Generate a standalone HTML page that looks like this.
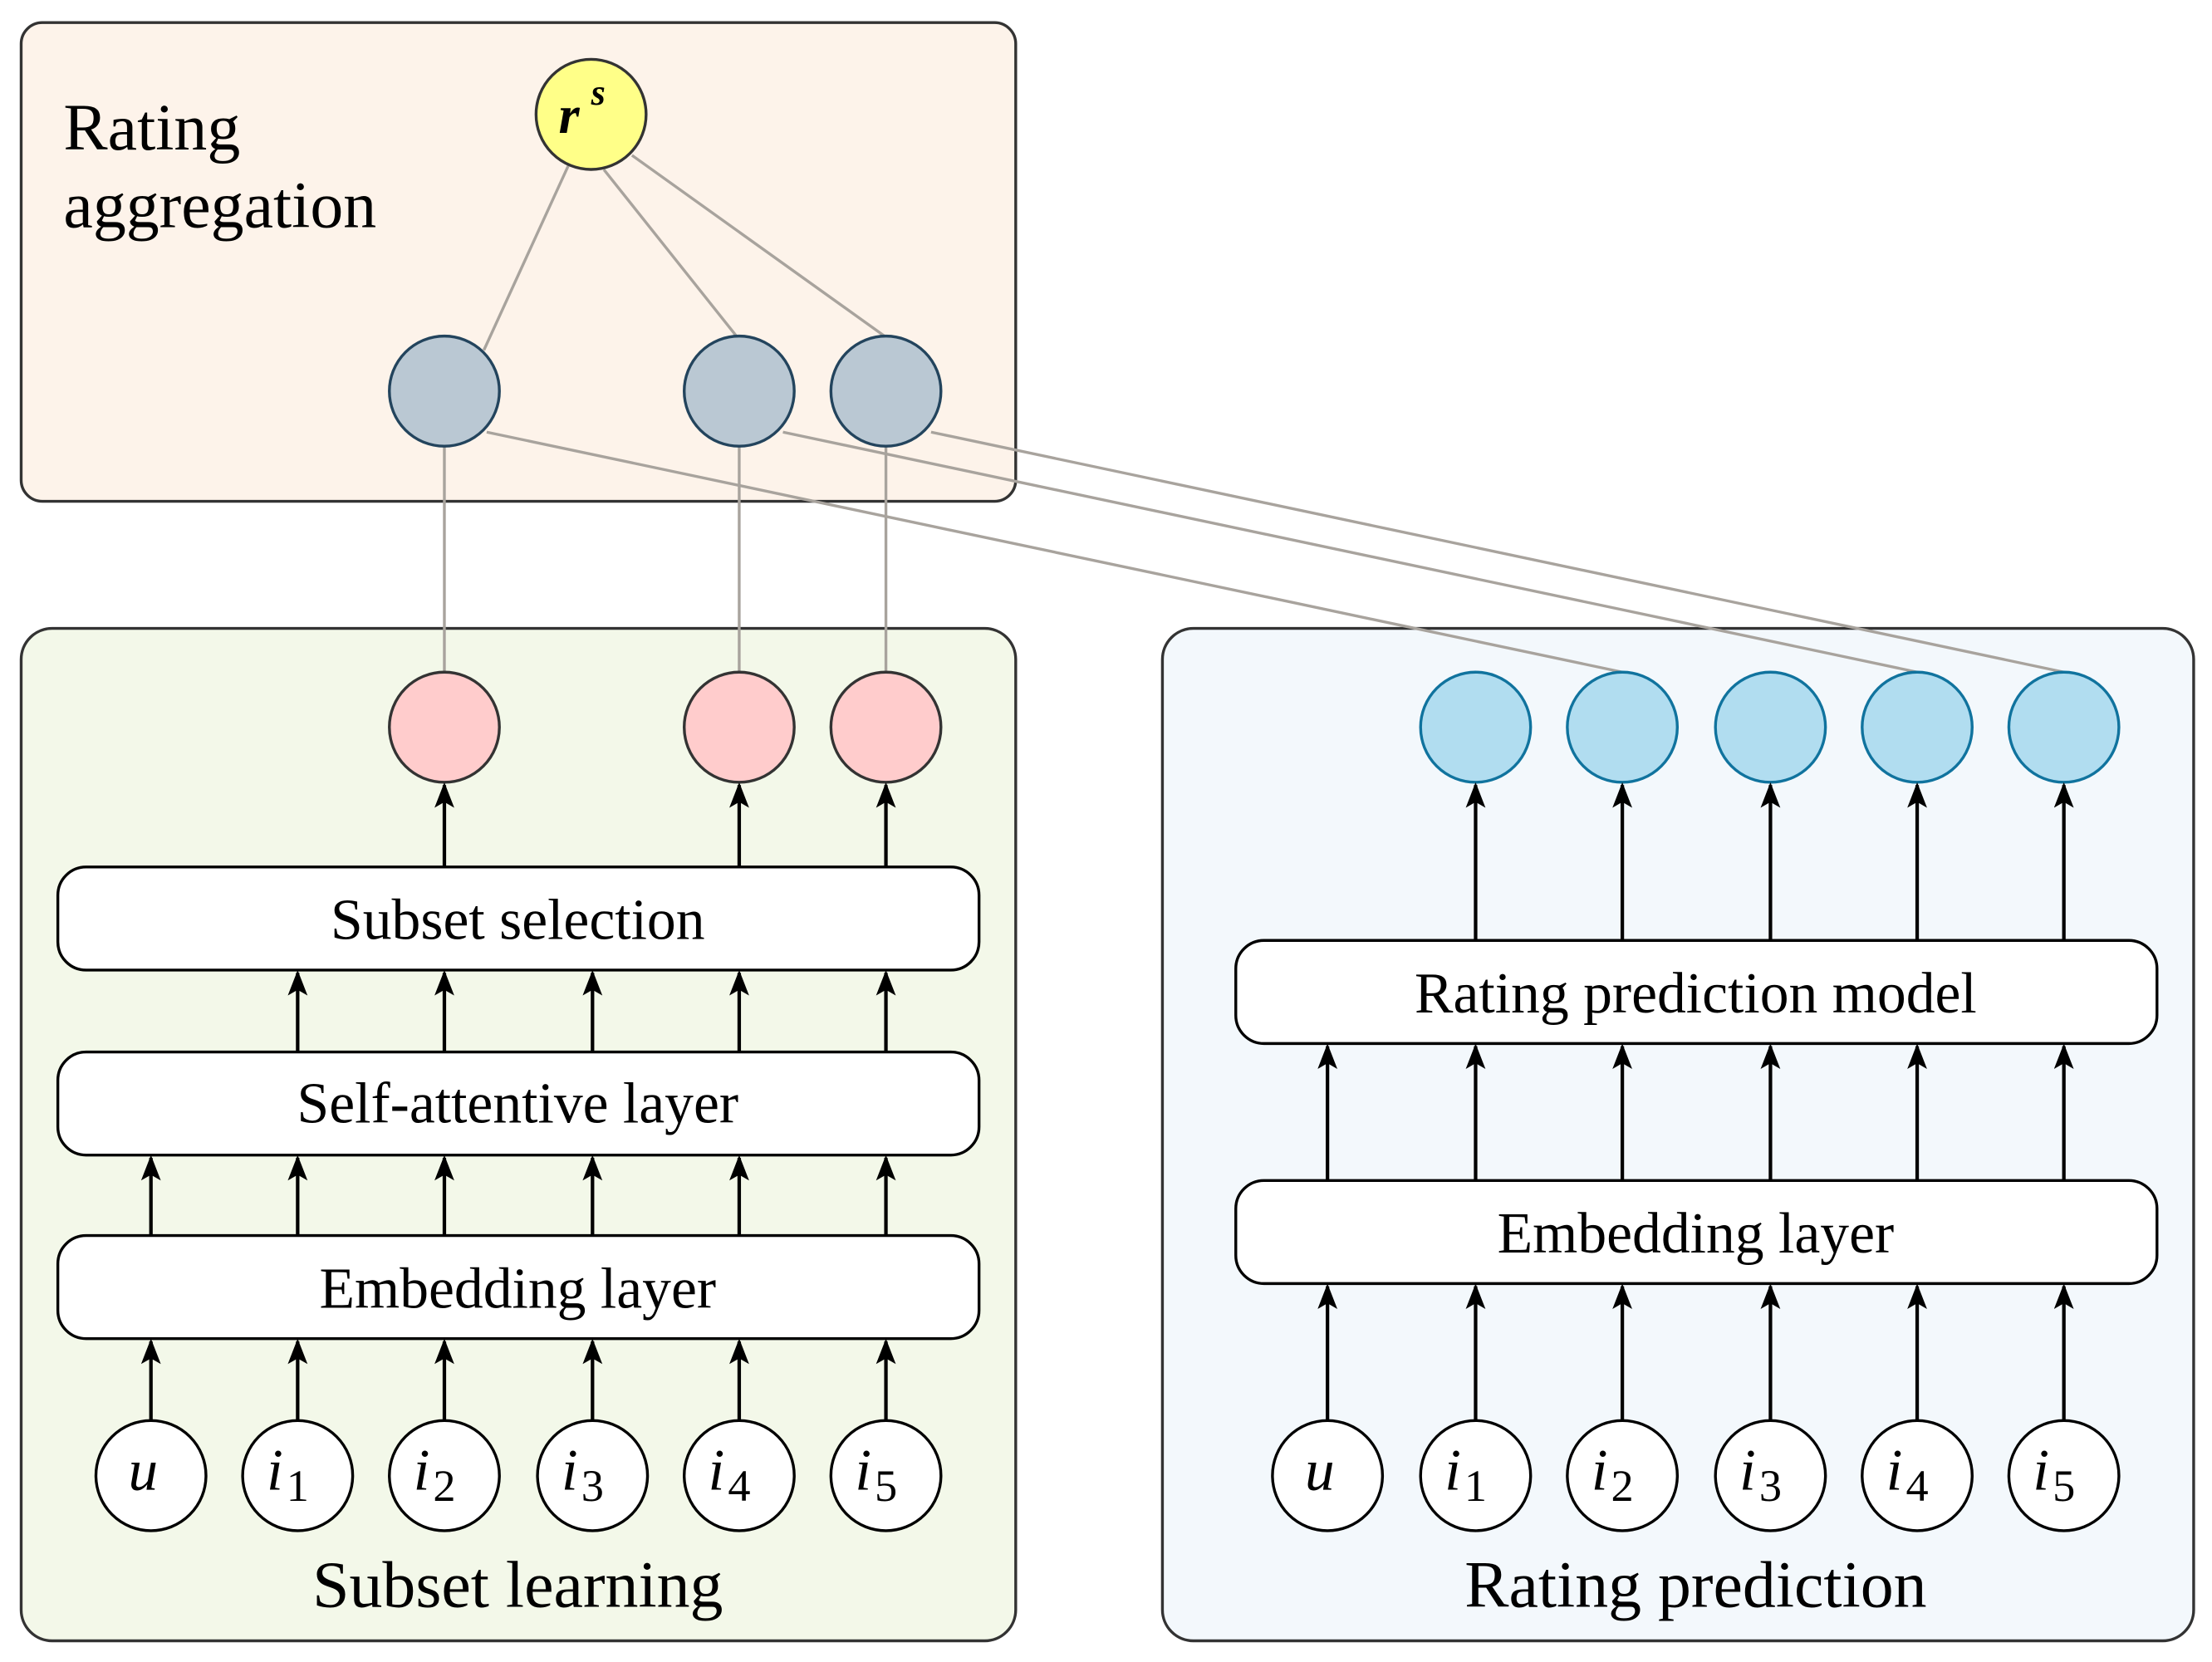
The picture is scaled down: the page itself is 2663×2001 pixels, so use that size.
<!DOCTYPE html>
<html><head><meta charset="utf-8">
<style>
html,body{margin:0;padding:0;background:#fff;}
svg{display:block;}
text{font-family:"Liberation Serif",serif;fill:#000;}
.m{font-style:italic;}
</style></head>
<body>
<svg width="2663" height="2001" viewBox="0 0 1568 1177" preserveAspectRatio="none" xmlns="http://www.w3.org/2000/svg">
<defs>
<marker id="a" markerWidth="18" markerHeight="16" refX="16" refY="7" orient="auto" markerUnits="userSpaceOnUse">
<path d="M0,0 L18,7 L0,14 L4,7 Z" fill="#000"/>
</marker>
</defs>
<rect x="15" y="16" width="705" height="339" rx="15" fill="#fdf3ea" stroke="#333" stroke-width="2"/>
<rect x="15" y="445" width="705" height="717" rx="22" fill="#f3f8e9" stroke="#333" stroke-width="2"/>
<rect x="824" y="445" width="731" height="717" rx="22" fill="#f3f8fc" stroke="#333" stroke-width="2"/>

<g stroke="#a8a39d" stroke-width="2" fill="none">
<line x1="403" y1="117" x2="343" y2="248"/>
<line x1="428" y1="120" x2="522" y2="238"/>
<line x1="448" y1="110" x2="627" y2="238"/>
<line x1="315" y1="316" x2="315" y2="476"/>
<line x1="524" y1="316" x2="524" y2="476"/>
<line x1="628" y1="316" x2="628" y2="476"/>
<line x1="345" y1="306" x2="1150" y2="476"/>
<line x1="555" y1="306" x2="1359" y2="476"/>
<line x1="660" y1="306" x2="1463" y2="476"/>
</g>

<text x="45" y="106" font-size="47">Rating</text>
<text x="45" y="161" font-size="47">aggregation</text>

<circle cx="419" cy="81" r="39" fill="#ffff88" stroke="#333" stroke-width="2"/>
<text x="396" y="94" font-size="38" class="m" font-weight="bold">r</text>
<text x="419" y="74" font-size="26" class="m" font-weight="bold">s</text>

<g fill="#bac8d3" stroke="#23445d" stroke-width="2">
<circle cx="315" cy="277" r="39"/><circle cx="524" cy="277" r="39"/><circle cx="628" cy="277" r="39"/>
</g>
<g fill="#ffcccc" stroke="#333" stroke-width="2">
<circle cx="315" cy="515" r="39"/><circle cx="524" cy="515" r="39"/><circle cx="628" cy="515" r="39"/>
</g>
<g fill="#b1ddf0" stroke="#10739e" stroke-width="2">
<circle cx="1046" cy="515" r="39"/><circle cx="1150" cy="515" r="39"/><circle cx="1255" cy="515" r="39"/><circle cx="1359" cy="515" r="39"/><circle cx="1463" cy="515" r="39"/>
</g>

<g fill="#fff" stroke="#000" stroke-width="2">
<rect x="41" y="614" width="653" height="73" rx="20"/>
<rect x="41" y="745" width="653" height="73" rx="20"/>
<rect x="41" y="875" width="653" height="73" rx="20"/>
<rect x="876" y="666" width="653" height="73" rx="20"/>
<rect x="876" y="836" width="653" height="73" rx="20"/>
</g>
<g font-size="41" text-anchor="middle">
<text x="367" y="665">Subset selection</text>
<text x="367" y="795">Self-attentive layer</text>
<text x="367" y="926">Embedding layer</text>
<text x="1202" y="717">Rating prediction model</text>
<text x="1202" y="887">Embedding layer</text>
<text x="367" y="1138" font-size="47">Subset learning</text>
<text x="1202" y="1138" font-size="47">Rating prediction</text>
</g>

<g stroke="#000" stroke-width="2.5" marker-end="url(#a)">
<line x1="107" y1="1006" x2="107" y2="950"/><line x1="211" y1="1006" x2="211" y2="950"/><line x1="315" y1="1006" x2="315" y2="950"/><line x1="420" y1="1006" x2="420" y2="950"/><line x1="524" y1="1006" x2="524" y2="950"/><line x1="628" y1="1006" x2="628" y2="950"/>
<line x1="107" y1="875" x2="107" y2="820"/><line x1="211" y1="875" x2="211" y2="820"/><line x1="315" y1="875" x2="315" y2="820"/><line x1="420" y1="875" x2="420" y2="820"/><line x1="524" y1="875" x2="524" y2="820"/><line x1="628" y1="875" x2="628" y2="820"/>
<line x1="211" y1="745" x2="211" y2="689"/><line x1="315" y1="745" x2="315" y2="689"/><line x1="420" y1="745" x2="420" y2="689"/><line x1="524" y1="745" x2="524" y2="689"/><line x1="628" y1="745" x2="628" y2="689"/>
<line x1="315" y1="614" x2="315" y2="556"/><line x1="524" y1="614" x2="524" y2="556"/><line x1="628" y1="614" x2="628" y2="556"/>
<line x1="941" y1="1006" x2="941" y2="911"/><line x1="1046" y1="1006" x2="1046" y2="911"/><line x1="1150" y1="1006" x2="1150" y2="911"/><line x1="1255" y1="1006" x2="1255" y2="911"/><line x1="1359" y1="1006" x2="1359" y2="911"/><line x1="1463" y1="1006" x2="1463" y2="911"/>
<line x1="941" y1="836" x2="941" y2="741"/><line x1="1046" y1="836" x2="1046" y2="741"/><line x1="1150" y1="836" x2="1150" y2="741"/><line x1="1255" y1="836" x2="1255" y2="741"/><line x1="1359" y1="836" x2="1359" y2="741"/><line x1="1463" y1="836" x2="1463" y2="741"/>
<line x1="1046" y1="666" x2="1046" y2="556"/><line x1="1150" y1="666" x2="1150" y2="556"/><line x1="1255" y1="666" x2="1255" y2="556"/><line x1="1359" y1="666" x2="1359" y2="556"/><line x1="1463" y1="666" x2="1463" y2="556"/>
</g>

<g fill="#fff" stroke="#000" stroke-width="2">
<circle cx="107" cy="1045" r="39"/><circle cx="211" cy="1045" r="39"/><circle cx="315" cy="1045" r="39"/><circle cx="420" cy="1045" r="39"/><circle cx="524" cy="1045" r="39"/><circle cx="628" cy="1045" r="39"/>
<circle cx="941" cy="1045" r="39"/><circle cx="1046" cy="1045" r="39"/><circle cx="1150" cy="1045" r="39"/><circle cx="1255" cy="1045" r="39"/><circle cx="1359" cy="1045" r="39"/><circle cx="1463" cy="1045" r="39"/>
</g>
<g font-size="42">
<text x="91" y="1055" class="m">u</text>
<text x="189" y="1055" class="m">i</text><text x="203" y="1063" font-size="32">1</text>
<text x="293" y="1055" class="m">i</text><text x="307" y="1063" font-size="32">2</text>
<text x="398" y="1055" class="m">i</text><text x="412" y="1063" font-size="32">3</text>
<text x="502" y="1055" class="m">i</text><text x="516" y="1063" font-size="32">4</text>
<text x="606" y="1055" class="m">i</text><text x="620" y="1063" font-size="32">5</text>
<text x="925" y="1055" class="m">u</text>
<text x="1024" y="1055" class="m">i</text><text x="1038" y="1063" font-size="32">1</text>
<text x="1128" y="1055" class="m">i</text><text x="1142" y="1063" font-size="32">2</text>
<text x="1233" y="1055" class="m">i</text><text x="1247" y="1063" font-size="32">3</text>
<text x="1337" y="1055" class="m">i</text><text x="1351" y="1063" font-size="32">4</text>
<text x="1441" y="1055" class="m">i</text><text x="1455" y="1063" font-size="32">5</text>
</g>
</svg>
</body></html>
